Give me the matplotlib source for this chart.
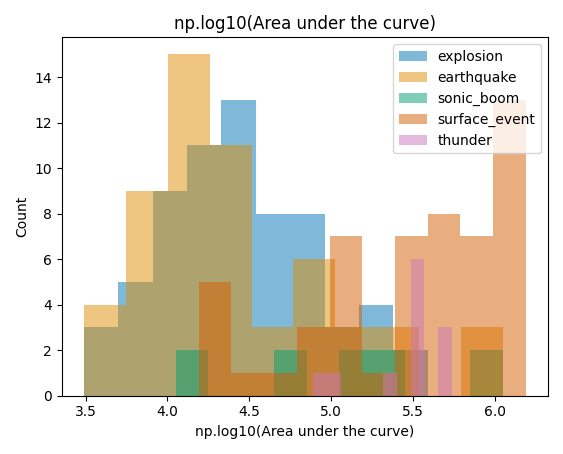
import numpy as np
import matplotlib
matplotlib.use("Agg")
import matplotlib.pyplot as plt

labels = ["explosion", "earthquake", "sonic_boom", "surface_event", "thunder"]
colors = ["#0173b2", "#de8f05", "#029e73", "#d55e00", "#cc78bc"]
# (min, max) of each class's values and counts per each of 10 equal bins
ranges = [(3.49, 5.59), (3.49, 6.05), (4.05, 6.05), (4.19, 6.19), (4.89, 5.74)]
explosion = [3, 5, 9, 11, 13, 8, 8, 3, 4, 2]
earthquake = [4, 9, 15, 11, 3, 6, 3, 3, 0, 3]
sonic_boom = [2, 0, 0, 2, 0, 2, 2, 0, 0, 2]
surface_event = [5, 1, 1, 3, 7, 1, 7, 8, 7, 13]
thunder = [1, 1, 0, 0, 0, 1, 0, 6, 0, 3]
counts = [explosion, earthquake, sonic_boom, surface_event, thunder]

fig, ax = plt.subplots(figsize=(5.63, 4.54), dpi=100)
for lab, col, (lo, hi), c in zip(labels, colors, ranges, counts):
    edges = np.linspace(lo, hi, len(c) + 1)
    centers = (edges[:-1] + edges[1:]) / 2
    ax.hist(centers, bins=edges, weights=c, color=col, alpha=0.5, label=lab)
ax.set_title("np.log10(Area under the curve)")
ax.set_xlabel("np.log10(Area under the curve)")
ax.set_ylabel("Count")
ax.legend(loc="upper right")
fig.tight_layout()
fig.savefig("out.png", dpi=100)
